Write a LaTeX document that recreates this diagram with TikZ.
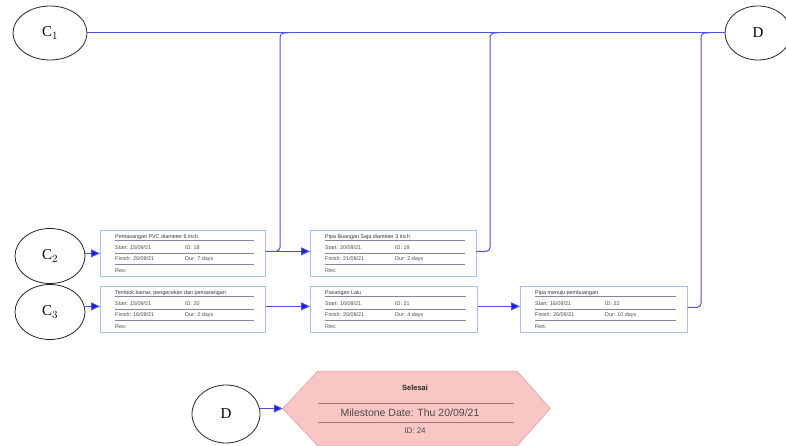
\documentclass[tikz,border=0pt]{standalone}
\usepackage{fontspec}
\setmainfont{Liberation Serif}
\newfontfamily\boxfont{Liberation Sans}
\usetikzlibrary{shapes.geometric,arrows.meta}
\definecolor{linec}{HTML}{4F4FE0}
\definecolor{arrc}{HTML}{1A1AD8}
\definecolor{boxc}{HTML}{A9C1E8}
\definecolor{sepc}{HTML}{7F889E}
\definecolor{txtc}{HTML}{4A4A4A}
\definecolor{hexfill}{HTML}{F9C6C6}
\definecolor{hexline}{HTML}{E9A3A3}
\tikzset{
  evt/.style={ellipse, draw=black!85, line width=0.8pt, fill=white, font=\fontsize{15}{15}\selectfont},
  conn/.style={draw=linec, line width=1pt},
  arr/.style={conn, -{Triangle[length=9pt,width=8pt,fill=arrc]}},
  taskbox/.style={draw=boxc, line width=0.7pt, fill=white, anchor=north west, inner sep=0pt},
  sepline/.style={draw=sepc, line width=0.4pt},
  btxt/.style={anchor=base west, inner sep=0pt, text=txtc, font=\boxfont\fontsize{5.4}{6}\selectfont},
}
\newcommand{\mytask}[9]{%
  \node[taskbox, minimum width=#4, minimum height=46] (#1) at (#2,#3) {};
  \draw[sepline] ([xshift=15,yshift=-10]#1.north west) -- ([xshift=-12,yshift=-10]#1.north east);
  \draw[sepline] ([xshift=15,yshift=-23]#1.north west) -- ([xshift=-12,yshift=-23]#1.north east);
  \draw[sepline] ([xshift=15,yshift=-34]#1.north west) -- ([xshift=-12,yshift=-34]#1.north east);
  \node[btxt, text=black!80] at ([xshift=15,yshift=-8]#1.north west) {#5};
  \node[btxt] at ([xshift=15,yshift=-19.5]#1.north west) {Start: #6};
  \node[btxt] at ([xshift=85,yshift=-19.5]#1.north west) {ID: #7};
  \node[btxt] at ([xshift=15,yshift=-30.5]#1.north west) {Finish: #8};
  \node[btxt] at ([xshift=85,yshift=-30.5]#1.north west) {Dur: #9};
  \node[btxt] at ([xshift=15,yshift=-42]#1.north west) {Res:};
}
\begin{document}
\begin{tikzpicture}[x=1pt,y=-1pt]
\useasboundingbox (0,0) rectangle (786,446);

% events
\node[evt, minimum width=74, minimum height=54] (C1) at (50,33) {C$_1$};
\node[evt, minimum width=66, minimum height=54] (D1) at (758,33) {D};
\node[evt, minimum width=70, minimum height=55] (C2) at (50,256) {C$_2$};
\node[evt, minimum width=70, minimum height=55] (C3) at (50,312) {C$_3$};

% tasks
\mytask{b1}{100}{230}{165}{Pemasangan PVC diameter 6 inch}{15/09/21}{18}{20/09/21}{7 days}
\mytask{b2}{310}{230}{166}{Pipa Buangan Saja diameter 3 inch}{20/09/21}{19}{21/09/21}{2 days}
\mytask{b3}{100}{286}{165}{Tembok kamar, pengecekan dan pemasangan}{15/09/21}{20}{16/09/21}{2 days}
\mytask{b4}{310}{286}{167}{Pasangan Lalu}{16/09/21}{21}{20/09/21}{4 days}
\mytask{b5}{520}{286}{167}{Pipa menuju pembuangan}{16/09/21}{22}{26/09/21}{10 days}

% main line
\draw[conn] (C1.east) -- (D1.west);
\coordinate (v1) at (280,33);
\coordinate (v2) at (490,33);
\coordinate (v3) at (701,33);
\draw[conn, rounded corners=4pt] ([yshift=2]b1.east) -| (v1) -- ([xshift=8]v1);
\draw[conn, rounded corners=4pt] ([yshift=2]b2.east) -| (v2) -- ([xshift=8]v2);
\draw[conn, rounded corners=4pt] ([yshift=2]b5.east) -| (v3) -- ([xshift=8]v3);

% arrows
\draw[arr] (C2.east |- b1.west) -- (b1.west);
\draw[arr] ([yshift=2]b1.east) -- ([yshift=2]b2.west);
\draw[arr] ([yshift=3]C3.east |- b3.west) -- ([yshift=3]b3.west);
\draw[arr] ([yshift=3]b3.east) -- ([yshift=3]b4.west);
\draw[arr] ([yshift=3]b4.east) -- ([yshift=3]b5.west);

% milestone
\node[evt, minimum width=68, minimum height=58] (D2) at (226,414) {D};
\node[minimum width=267, minimum height=74, inner sep=0pt] (hex) at (416.5,408.5) {};
\draw[draw=hexline, fill=hexfill, line width=0.7pt]
  (hex.west) -- ([xshift=35]hex.north west) -- ([xshift=-33]hex.north east)
  -- (hex.east) -- ([xshift=-33]hex.south east) -- ([xshift=35]hex.south west) -- cycle;
\draw[draw=hexline!70!black, line width=0.4pt] (318,403) -- (514,403);
\draw[draw=hexline!70!black, line width=0.4pt] (318,422) -- (514,422);
\node[inner sep=0pt, font=\boxfont\bfseries\fontsize{7.5}{8}\selectfont, text=black!85] at (415,388) {Selesai};
\node[inner sep=0pt, font=\boxfont\fontsize{10.5}{11}\selectfont, text=txtc] at (410,413) {Milestone Date: Thu 20/09/21};
\node[inner sep=0pt, font=\boxfont\fontsize{8}{9}\selectfont, text=txtc] at (415,431) {ID: 24};
\draw[arr] (hex.west -| D2.east) -- (hex.west);
\end{tikzpicture}
\end{document}
